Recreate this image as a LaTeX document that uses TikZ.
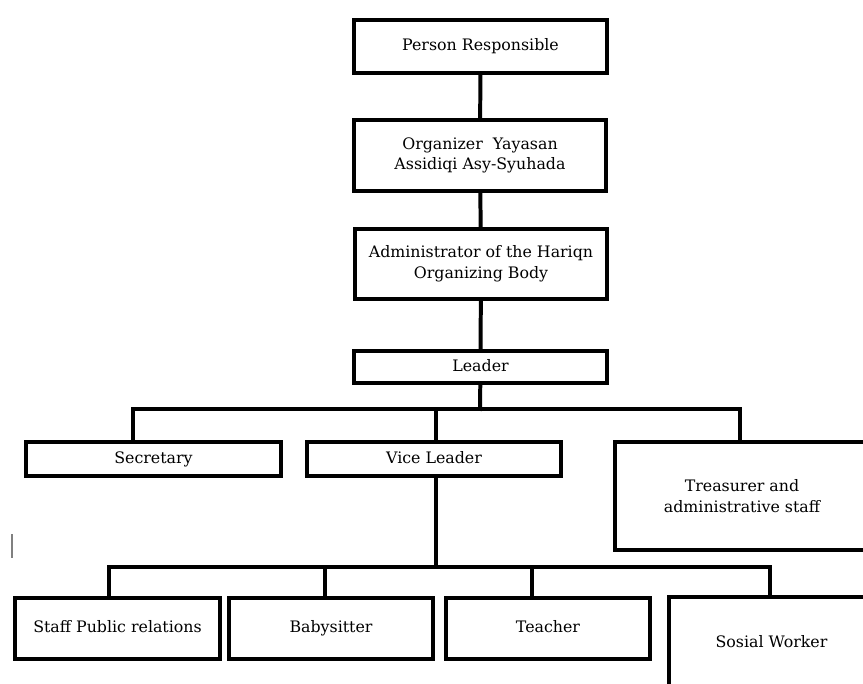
\documentclass[tikz,border=0pt]{standalone}
\usepackage{fontspec}
\setmainfont{DejaVu Serif}

\begin{document}
\begin{tikzpicture}[x=0.03cm, y=-0.03cm,
    box/.style 2 args={draw, line width=3pt, line join=miter, fill=white,
      minimum width=#1*0.03cm, minimum height=#2*0.03cm, inner sep=0pt,
      align=center, font=\fontsize{13.5}{17.5}\selectfont},
    link/.style={line width=3.4pt, line cap=rect, line join=miter}]
  \useasboundingbox (0,0) rectangle (863,684);
  \clip (0,0) rectangle (863,684);

  % top chain
  \node[box={253}{53}] (pr) at (480.5,46.5) {Person Responsible};
  \node[box={252}{71}] (org) at (480,155.5) {Organizer~~Yayasan\\Assidiqi Asy-Syuhada};
  \node[box={252}{70}] (adm) at (481,264) {Administrator of the Hariqn\\Organizing Body};
  \node[box={253}{32}] (ldr) at (480.5,367) {Leader\vphantom{y}};

  % second row
  \node[box={255}{34}] (sec) at (153.5,459) {Secretary};
  \node[box={254}{34}] (vice) at (434,459) {Vice Leader\vphantom{y}};
  \node[box={254}{108}] (tre) at (742,496) {Treasurer and\\administrative staff};

  % third row
  \node[box={205}{61}] (staff) at (117.5,628.5) {Staff Public relations\vphantom{y}};
  \node[box={204}{61}] (baby) at (331,628.5) {Babysitter};
  \node[box={204}{61}] (teach) at (548,628.5) {Teacher\vphantom{y}};
  \node[box={205}{92}] (sos) at (771.5,643) {Sosial Worker\vphantom{y}};

  \draw[link] (pr) -- (org);
  \draw[link] (org) -- (adm);
  \draw[link] (adm) -- (ldr);

  \coordinate (j1) at (480,409);
  \draw[link] (ldr) -- (j1);
  \draw[link] ([xshift=-0.62cm]sec.north) |- (j1) -| ([xshift=-0.06cm]tre.north);
  \draw[link] ([xshift=0.06cm]vice.north) -- ([xshift=0.06cm]vice.north |- j1);

  \coordinate (j2) at (436,567);
  \draw[link] ([xshift=0.06cm]vice.south) -- (j2);
  \draw[link] ([xshift=-0.26cm]staff.north) |- (j2) -| ([xshift=-0.045cm]sos.north);
  \draw[link] ([xshift=-0.18cm]baby.north) -- ([xshift=-0.18cm]baby.north |- j2);
  \draw[link] ([xshift=-0.48cm]teach.north) -- ([xshift=-0.48cm]teach.north |- j2);

  \draw[gray, line width=1pt] (12,534) -- (12,558);
\end{tikzpicture}
\end{document}
